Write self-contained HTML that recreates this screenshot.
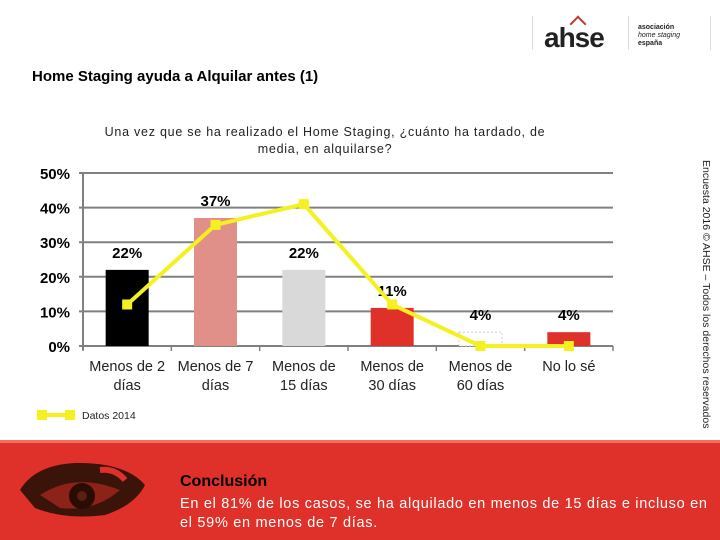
<!DOCTYPE html>
<html><head><meta charset="utf-8"><style>
body{margin:0;width:720px;height:540px;overflow:hidden;background:#fff;font-family:"Liberation Sans",sans-serif;position:relative}
.abs{position:absolute}
</style></head><body>
<div class="abs" style="left:532px;top:14px;width:180px;height:36px">
<div class="abs" style="left:0;top:2px;width:1px;height:34px;background:#ddd"></div>
<div class="abs" style="left:12px;top:8px;font-size:28px;font-weight:bold;color:#222;letter-spacing:-1px">ahse</div>
<div class="abs" style="left:40px;top:4px;width:10px;height:10px;border-left:2px solid #c0392b;border-top:2px solid #c0392b;transform:rotate(45deg)"></div>
<div class="abs" style="left:96px;top:2px;width:1px;height:34px;background:#ddd"></div>
<div class="abs" style="left:106px;top:10px;font-size:7px;line-height:8px;color:#222"><b>asociación</b><br><i>home staging</i><br><b>españa</b></div>
<div class="abs" style="left:178px;top:2px;width:1px;height:34px;background:#ddd"></div>
</div>
<div class="abs" style="left:32px;top:68px;font-size:15px;font-weight:bold;color:#000">Home Staging ayuda a Alquilar antes (1)</div>
<div class="abs" style="left:60px;top:124px;width:530px;text-align:center;font-size:12.5px;letter-spacing:0.75px;line-height:17px;color:#222;white-space:nowrap">Una vez que se ha realizado el Home Staging, ¿cuánto ha tardado, de<br>media, en alquilarse?</div>
<div class="abs" style="left:698px;top:160px;width:16px;height:260px;"><div style="position:absolute;left:8px;top:0;transform-origin:0 0;transform:rotate(90deg) translate(0,-6px);white-space:nowrap;font-size:10.5px;color:#222">Encuesta 2016 © AHSE – Todos los derechos reservados</div></div>
<svg class="abs" style="left:0;top:0" width="720" height="440" id="chart"></svg>
<div class="abs" style="left:0;top:440px;width:720px;height:100px;background:#e0302a;border-top:3px solid #f07060;box-sizing:border-box">
<svg class="abs" style="left:15px;top:17px" width="135" height="65"><path d="M5 30 Q20 5 60 3 Q110 2 130 25 Q120 45 90 55 Q50 60 20 48 Z" fill="#3a1408"/><path d="M25 35 Q60 12 105 30 Q80 52 45 48 Z" fill="#e0302a" opacity=".5"/><circle cx="67" cy="36" r="13" fill="#2a0c04"/><circle cx="67" cy="36" r="5" fill="#5a2010"/><path d="M85 10 Q100 8 110 20" stroke="#e0302a" stroke-width="6" fill="none"/></svg>
<div class="abs" style="left:180px;top:30px;font-size:16px;font-weight:bold;color:#000">Conclusión</div>
<div class="abs" style="left:180px;top:52px;width:540px;font-size:14.5px;letter-spacing:0.7px;line-height:19px;color:#fff;white-space:nowrap">En el 81% de los casos, se ha alquilado en menos de 15 días e incluso en<br>el 59% en menos de 7 días.</div>
</div>
<script>
const categories=[["Menos de 2","días"],["Menos de 7","días"],["Menos de","15 días"],["Menos de","30 días"],["Menos de","60 días"],["No lo sé",""]];
const barValues=[22,37,22,11,4,4];
const barColors=["#000000","#e09088","#d9d9d9","#e0302a","#ffffff","#e0302a"];
const lineValues=[12,35,41,12,0,0];
const yTicks=[0,10,20,30,40,50];
const NS="http://www.w3.org/2000/svg";
const svg=document.getElementById('chart');
const x0=83,x1=613,yBase=346,yTop=173,cw=(x1-x0)/categories.length;
const y=v=>yBase-(v/50)*(yBase-yTop);
const cx=i=>x0+cw*(i+0.5);
function mk(t,a){const e=document.createElementNS(NS,t);for(const k in a)e.setAttribute(k,a[k]);svg.appendChild(e);return e;}
yTicks.forEach(t=>{
const g=mk('line',{x1:x0-4,x2:x1,y1:y(t),y2:y(t),stroke:'#808080','stroke-width':2});


const l=mk('text',{x:70,y:y(t)+6,'text-anchor':'end','font-size':15,'font-weight':'bold',fill:'#000'});l.textContent=t+'%';


});
mk('line',{x1:x0,x2:x0,y1:yTop,y2:yBase+4,stroke:'#808080','stroke-width':2});
for(let i=0;i<=categories.length;i++)mk('line',{x1:x0+cw*i,x2:x0+cw*i,y1:yBase,y2:yBase+5,stroke:'#808080','stroke-width':1.5});
barValues.forEach((v,i)=>{
const b=mk('rect',{x:cx(i)-21.5,y:y(v),width:43,height:yBase-y(v),fill:barColors[i],stroke:i==4?'#ccc':'none','stroke-dasharray':i==4?'2,2':''});


const t=mk('text',{x:cx(i),y:y(v)-12,'text-anchor':'middle','font-size':15,'font-weight':'bold',fill:'#000'});t.textContent=v+'%';


categories[i].forEach((s,j)=>{const c=mk('text',{x:cx(i),y:371+j*19,'text-anchor':'middle','font-size':14.5,fill:'#222'});c.textContent=s;

});
});
const pl=mk('polyline',{points:lineValues.map((v,i)=>cx(i)+','+y(v)).join(' '),fill:'none',stroke:'#f5f020','stroke-width':4});


lineValues.forEach((v,i)=>{const m=mk('rect',{x:cx(i)-5,y:y(v)-5,width:10,height:10,fill:'#f5f020'});

});
mk('line',{x1:42,x2:70,y1:415,y2:415,stroke:'#f5f020','stroke-width':4});
mk('rect',{x:37,y:410,width:10,height:10,fill:'#f5f020'});mk('rect',{x:65,y:410,width:10,height:10,fill:'#f5f020'});
const lt=mk('text',{x:82,y:419,'font-size':10.5,fill:'#222'});lt.textContent='Datos 2014';


</script>
</body></html>
